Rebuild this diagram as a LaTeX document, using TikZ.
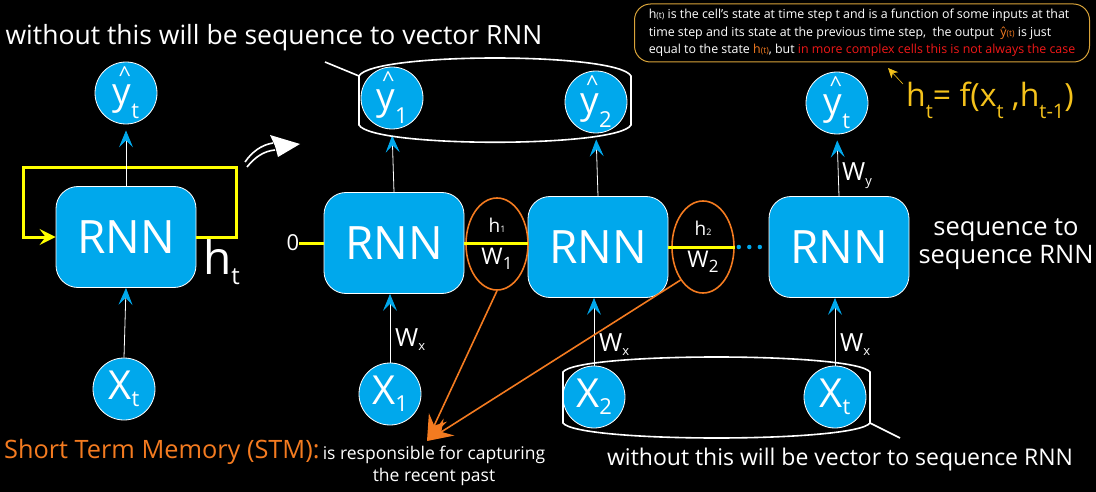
\documentclass[tikz,border=0pt]{standalone}
\usepackage{fontspec}
\setmainfont{Open Sans}
\usetikzlibrary{shapes.geometric,arrows.meta,positioning,calc}

\definecolor{cellblue}{HTML}{00A8EC}
\definecolor{loopyellow}{HTML}{FFFF00}
\definecolor{memorange}{HTML}{F47B20}
\definecolor{eqgold}{HTML}{F5C21B}
\definecolor{boxgold}{HTML}{D9A43A}
\definecolor{casered}{HTML}{F01818}

% lowered subscript: size, drop, text
\newcommand{\lowsub}[3]{\raisebox{-#2pt}{\fontsize{#1}{#1}\selectfont #3}}
% y with a hat and a subscript
\newcommand{\yhat}[1]{\makebox[0pt][l]{\raisebox{22pt}{\hspace{6pt}\fontsize{22}{22}\selectfont\textasciicircum}}y\lowsub{22}{14}{#1}}
\newcommand{\smallt}{{\fontsize{8.5}{8.5}\selectfont(t)}}

\begin{document}
\begin{tikzpicture}[x=1pt,y=-1pt,
  cell/.style={rectangle, rounded corners=22pt, fill=cellblue, draw=white, line width=0.8pt,
    minimum width=140pt, minimum height=101pt, text=white, font=\fontsize{46}{46}\selectfont},
  unit/.style={circle, fill=cellblue, draw=white, line width=0.8pt, minimum size=62pt,
    inner sep=0pt, text=white, font=\fontsize{37}{37}\selectfont},
  weight/.style={ellipse, draw=memorange, line width=1.6pt, minimum width=62pt,
    minimum height=92pt, inner sep=0pt, text=white, align=center},
  feed/.style={draw=white, line width=0.8pt,
    -{Stealth[length=17pt,width=14pt,inset=7pt,color=cellblue]}},
  hidden/.style={draw=loopyellow, line width=3pt},
  memo/.style={draw=memorange, line width=1.6pt, -{Stealth[length=26pt,width=20pt,inset=9pt]}},
  bag/.style={draw=white, line width=1.6pt},
  wlab/.style={text=white, font=\fontsize{25}{25}\selectfont, inner sep=0pt, anchor=west},
  note/.style={text=white, inner sep=0pt}]

  \fill[black] (0,0) rectangle (1096,492);
  \useasboundingbox (0,0) rectangle (1096,492);

  % folded cell
  \node[unit] (yL) at (126,93) {\yhat{t}};
  \node[cell] (rnnL) at (126,237) {RNN};
  \node[unit, font=\fontsize{40}{40}\selectfont] (xL) at (124,389) {X\lowsub{22}{7}{t}};
  \node[note, anchor=west, font=\fontsize{46}{46}\selectfont] (hL) at (203,262) {h\lowsub{24}{10}{t}};
  \draw[hidden, -{Stealth[length=16pt,width=16pt,inset=6pt]}]
    (rnnL.east) -- ++(40,0) -- ++(0,-69) -- ++(-213,0) -- ++(0,69) -- (rnnL.west);
  \draw[feed, shorten >=6pt] (rnnL.north) -- (yL.south);
  \draw[feed] (xL.north) -- (rnnL.south);

  % unfold sign
  \draw[white, line width=1.6pt] (245,162) .. controls (252,152) and (261,145) .. (273,143);
  \draw[white, line width=1.6pt] (247,167) .. controls (255,157) and (264,151) .. (275,150);
  \fill[white] (270,135) -- (300,144) -- (278,157) -- (275,146) -- cycle;

  % unrolled cells
  \node[unit] (yA) at (392,98) {\yhat{1}};
  \node[unit] (yB) at (596,102) {\yhat{2}};
  \node[unit] (yC) at (837,103) {\yhat{t}};
  \node[cell] (rnnA) at (394,243) {RNN};
  \node[cell] (rnnB) at (598,247) {RNN};
  \node[cell] (rnnC) at (839,247) {RNN};
  \node[unit, font=\fontsize{40}{40}\selectfont] (xA) at (390,394) {X\lowsub{22}{7}{1}};
  \node[unit, font=\fontsize{40}{40}\selectfont] (xB) at (594,397) {X\lowsub{22}{7}{2}};
  \node[unit, font=\fontsize{40}{40}\selectfont] (xC) at (835,397) {X\lowsub{22}{7}{t}};
  \node[weight] (e1) at (497,244)
    {{\fontsize{19}{19}\selectfont h\fontsize{9}{9}\selectfont 1}\\[15pt]
     {\fontsize{23}{23}\selectfont W\lowsub{17}{5}{1}}};
  \node[weight] (e2) at (703,247)
    {{\fontsize{19}{19}\selectfont h\fontsize{9}{9}\selectfont 2}\\[15pt]
     {\fontsize{23}{23}\selectfont W\lowsub{17}{5}{2}}};
  \node[note, font=\fontsize{22}{22}\selectfont] (zero) at (293,243) {0};

  \draw[hidden] (zero.east) -- (rnnA.west);
  \draw[hidden] (rnnA.east) -- (rnnA.east -| rnnB.west);
  \draw[hidden] (rnnB.east) -- (e2.east);
  \draw[cellblue, line width=4.5pt, line cap=round, dash pattern=on 0pt off 10.5pt]
    ([xshift=4pt]e2.east) -- ([xshift=-8pt]rnnC.west);

  \draw[feed, shorten >=6pt] (rnnA.north) -- (yA.south);
  \draw[feed, shorten >=6pt] (rnnB.north) -- (yB.south);
  \draw[feed, shorten >=6pt] (rnnC.north) -- (yC.south);
  \draw[feed] (xA.north) -- (xA.north |- rnnA.south);
  \draw[feed] (xB.north) -- (xB.north |- rnnB.south);
  \draw[feed] (xC.north) -- (xC.north |- rnnC.south);

  \node[wlab] (wxA) at (395,340) {W\lowsub{13}{4}{x}};
  \node[wlab] (wxB) at (599,345) {W\lowsub{13}{4}{x}};
  \node[wlab] (wxC) at (840,345) {W\lowsub{13}{4}{x}};
  \node[wlab] (wyC) at (842,176) {W\lowsub{13}{5}{y}};

  \node[note, align=center, font=\fontsize{25.5}{28}\selectfont] (seqseq) at (1006,244)
    {sequence to\\sequence RNN};

  % groups of outputs and inputs
  \draw[bag] (359,76) .. controls (372,52) and (618,52) .. (631,76) -- (631,125)
    .. controls (618,148) and (372,148) .. (359,125) -- cycle;
  \draw[bag] (563,372) .. controls (578,352) and (855,352) .. (870,372) -- (870,423)
    .. controls (855,443) and (578,443) .. (563,423) -- cycle;
  \coordinate (barTop) at (359,76);
  \coordinate (barBot) at (870,423);

  \node[note, font=\fontsize{26.5}{30}\selectfont] (topnote) at (274,38)
    {without this will be sequence to vector RNN};
  \node[note, font=\fontsize{23}{27}\selectfont] (botnote) at (840,460)
    {without this will be vector to sequence RNN};
  \coordinate (topfoot) at (325,62);
  \coordinate (botfoot) at (900,438);
  \draw[white, line width=1.6pt] (topfoot) -- (barTop);
  \draw[white, line width=1.6pt] (barBot) -- (botfoot);

  % short term memory
  \coordinate (stmtip) at (427,441);
  \draw[memo] (e1.south) -- (stmtip);
  \draw[memo] (e2.south west) -- (stmtip);
  \node[note, text=memorange, anchor=west, font=\fontsize{25.3}{28}\selectfont] (stm) at (4,452)
    {Short Term Memory (STM):};
  \node[note, align=center, font=\fontsize{17.5}{22}\selectfont] (stmtext) at (434,466)
    {is responsible for capturing\\the recent past};

  % explanation box and formula
  \node[draw=boxgold, line width=1pt, rounded corners=16pt, fill=black, text=white,
    minimum width=455pt, minimum height=58pt, align=left, inner sep=4pt,
    font=\fontsize{12.4}{17.5}\selectfont] (info) at (862,33)
    {h\smallt\ is the cell’s state at time step t and is a function of some inputs at that\\
     time step and its state at the previous time step,\ \ the output\ \ {\color{memorange}ŷ\smallt} is just\\
     equal to the state {\color{memorange}h\smallt}, but {\color{casered}in more complex cells this is not always the case}};
  \node[note, text=eqgold, anchor=west, font=\fontsize{32}{32}\selectfont] (eq) at (906,100)
    {h\lowsub{20}{12}{t}= f(x\lowsub{20}{12}{t} ,h\lowsub{20}{12}{t-1})};
  \coordinate (eqfoot) at (903,84);
  \coordinate (eqhint) at (888,68);
  \draw[eqgold, line width=0.6pt, -{Stealth[length=10pt,width=9pt,inset=3pt]}] (eqfoot) -- (eqhint);
\end{tikzpicture}
\end{document}
